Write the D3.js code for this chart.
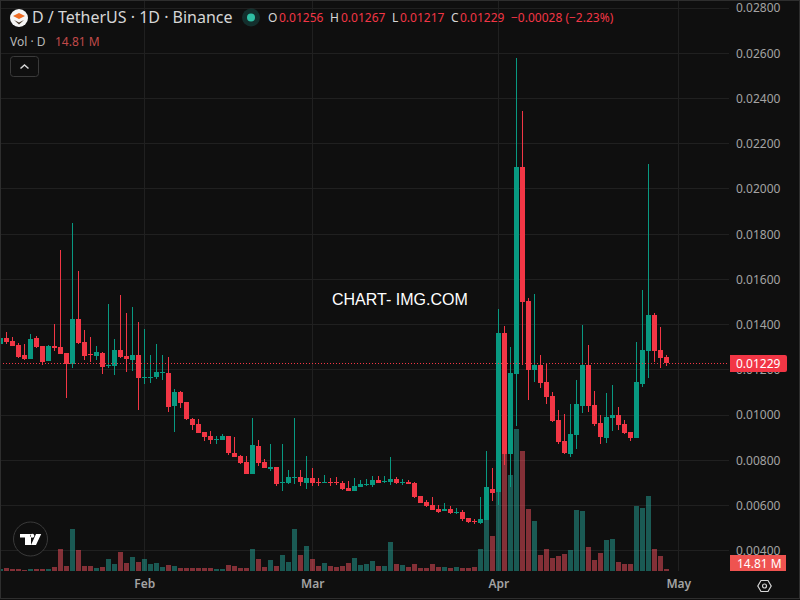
<!DOCTYPE html>
<html><head><meta charset="utf-8">
<style>html,body{margin:0;padding:0;background:#0f0f0f}svg{display:block}text{font-family:"Noto Sans",sans-serif}</style>
<script src="https://cdn.jsdelivr.net/npm/d3@7/dist/d3.min.js"></script>
</head><body><div id="c"></div>
<script>
const startDate = "2025-01-08";
const opens = [.01316,.01341,.01328,.01310,.01266,.01248,.01341,.01306,.01239,.01306,.01301,.01275,.01227,.01425,.01323,.01270,.01261,.01275,.01217,.01217,.01288,.01261,.01244,.01266,.01164,.01164,.01169,.01186,
.01186,.01040,.01102,.01058,.00983,.00961,.00925,.00907,.00891,.00890,.00907,.00832,.00819,.00793,.00739,.00863,.00793,.00762,.00770,.00700,.00700,.00722,.00726,.00700,.00722,.00704,.00700,.00704,.00704,.00700,.00678,.00664,.00682,.00691,.00691,.00713,.00704,.00704,.00717,.00700,.00704,.00700,
.00642,.00615,.00602,.00585,.00576,.00585,.00565,.00571,.00545,.00531,.00523,.00536,.00673,.00660,.01363,.00828,.01182,.02097,.01505,.01199,.01222,.01146,.01084,.00978,.00885,
.00828,.00912,.01040,.01221,.01045,.00965,.00899,.00987,.01000,.00961,.00925,.00899,.01137,.01283,.01443,.01288,.01256];
const highs = [.01345,.01368,.01345,.01317,.01314,.01359,.01350,.01306,.01310,.01403,.01730,.01275,.01850,.01637,.01376,.01345,.01306,.01279,.01491,.01337,.01531,.01452,.01478,.01412,.01381,.01266,.01314,.01266,
.01257,.01115,.01106,.01058,.00987,.00983,.00925,.00930,.00907,.00916,.00907,.00903,.00823,.00819,.00987,.00890,.00806,.00872,.00770,.00872,.00757,.00987,.00757,.00819,.00766,.00722,.00735,.00722,.00726,.00708,.00708,.00722,.00713,.00717,.00731,.00731,.00731,.00815,.00726,.00717,.00713,.00704,
.00642,.00624,.00638,.00602,.00611,.00598,.00589,.00580,.00545,.00540,.00638,.00841,.00766,.01469,.01394,.01301,.02579,.02345,.01518,.01536,.01266,.01226,.01102,.01022,.01005,
.01049,.01155,.01398,.01310,.01106,.01000,.01098,.01133,.01036,.00978,.00925,.01323,.01553,.02111,.01451,.01390,.01267];
const lows = [.01312,.01314,.01306,.01254,.01244,.01248,.01297,.01222,.01239,.01284,.01270,.01076,.01208,.01314,.01244,.01235,.01244,.01182,.01208,.01177,.01252,.01191,.01195,.01023,.01138,.01142,.01160,.01155,
.01014,.00925,.01031,.00978,.00934,.00921,.00885,.00872,.00872,.00890,.00823,.00815,.00784,.00739,.00739,.00775,.00766,.00753,.00686,.00664,.00695,.00695,.00686,.00673,.00686,.00686,.00700,.00686,.00691,.00669,.00664,.00664,.00682,.00686,.00682,.00700,.00700,.00691,.00695,.00691,.00695,.00633,
.00611,.00593,.00580,.00567,.00576,.00562,.00562,.00531,.00523,.00518,.00518,.00536,.00620,.00602,.00779,.00682,.00952,.01222,.01067,.01146,.01120,.01049,.00969,.00872,.00828,
.00815,.00850,.01009,.01014,.00952,.00872,.00876,.00930,.00934,.00916,.00885,.00899,.01124,.01164,.01235,.01208,.01217];
const closes = [.01341,.01322,.01306,.01257,.01248,.01337,.01301,.01235,.01306,.01297,.01270,.01226,.01425,.01319,.01261,.01266,.01279,.01213,.01222,.01288,.01257,.01248,.01266,.01164,.01169,.01169,.01191,.01191,
.01036,.01102,.01053,.00983,.00956,.00921,.00903,.00890,.00894,.00907,.00832,.00815,.00788,.00739,.00868,.00788,.00766,.00770,.00695,.00704,.00726,.00726,.00704,.00722,.00700,.00700,.00704,.00700,.00700,.00673,.00664,.00686,.00695,.00695,.00713,.00700,.00708,.00717,.00700,.00704,.00695,.00638,
.00611,.00598,.00580,.00571,.00585,.00567,.00570,.00540,.00527,.00527,.00540,.00682,.00655,.01363,.00828,.01186,.02097,.01500,.01199,.01222,.01142,.01080,.00974,.00881,.00832,
.00916,.01049,.01221,.01040,.00961,.00903,.00991,.01000,.00956,.00921,.00899,.01146,.01288,.01443,.01283,.01252,.01229];
const volumes = [15,22,15,15,7,15,15,15,15,30,163,37,311,155,37,37,22,30,89,52,141,59,104,67,89,52,59,30,44,37,22,22,22,22,22,22,15,15,44,37,22,22,
163,89,30,81,37,118,67,311,118,185,89,37,59,37,30,37,59,96,44,52,74,37,37,215,52,44,30,52,22,22,52,30,30,22,30,22,22,30,163,377,259,599,888,710,1051,888,459,370,118,163,96,111,126,
155,451,444,178,81,133,229,237,67,52,52,481,466,555,163,111,14.81];
const priceTicks = [.004,.006,.008,.010,.012,.014,.016,.018,.020,.022,.024,.026,.028];
const monthTicks = ["2025-02-01","2025-03-01","2025-04-01","2025-05-01"];
const monthNames = ["Feb","Mar","Apr","May"];
const titleText = "D / TetherUS · 1D · Binance";
const lastClose = closes[closes.length-1], lastVolume = volumes[volumes.length-1];

const W=800,H=600,plotR=729,volBase=571;
const UP="#089981",DOWN="#f23645",UPV="rgba(38,166,154,.5)",DOWNV="rgba(247,82,95,.5)";
const GRID="#202020",AX="#a3a3a3";
const svg=d3.select("#c").append("svg").attr("width",W).attr("height",H);
svg.append("rect").attr("width",W).attr("height",H).attr("fill","#0f0f0f");

const day=86400000, t0=new Date(startDate+"T00:00:00Z");
const dates=opens.map((_,i)=>new Date(+t0+i*day));
const x=d3.scaleUtc().domain([t0,new Date("2025-05-01T00:00:00Z")]).range([0.3,678.3]);
const y=d3.scaleLinear().domain([.004,.028]).range([550.7,8.1]);
const vy=d3.scaleLinear().domain([0,1051]).range([volBase,429]);
const months=monthTicks.map(d=>new Date(d+"T00:00:00Z"));

// grid
const grid=svg.append("g").attr("fill",GRID);
grid.selectAll(".h").data(priceTicks).join("rect").attr("x",0).attr("width",plotR).attr("y",d=>Math.round(y(d)-.5)).attr("height",1);
grid.selectAll(".v").data(months).join("rect").attr("y",0).attr("height",volBase).attr("x",d=>Math.floor(x(d))).attr("width",1);

const clip=svg.append("g");
// volume
clip.append("g").selectAll("rect").data(volumes).join("rect")
 .attr("x",(d,i)=>Math.round(x(dates[i]))-2).attr("width",5)
 .attr("y",d=>Math.round(vy(d))).attr("height",d=>volBase-Math.round(vy(d)))
 .attr("fill",(d,i)=>closes[i]>=opens[i]?UPV:DOWNV);
// candles
const g=clip.append("g");
const col=i=>closes[i]>=opens[i]?UP:DOWN;
g.selectAll(".w").data(opens).join("rect")
 .attr("x",(d,i)=>Math.round(x(dates[i]))).attr("width",1)
 .attr("y",(d,i)=>Math.round(y(highs[i]))).attr("height",(d,i)=>Math.max(1,Math.round(y(lows[i]))-Math.round(y(highs[i]))))
 .attr("fill",(d,i)=>col(i));
g.selectAll(".b").data(opens).join("rect")
 .attr("x",(d,i)=>Math.round(x(dates[i]))-2).attr("width",5)
 .attr("y",(d,i)=>Math.round(y(Math.max(d,closes[i]))))
 .attr("height",(d,i)=>Math.max(1,Math.round(y(Math.min(d,closes[i])))-Math.round(y(Math.max(d,closes[i])))))
 .attr("fill",(d,i)=>col(i));
// last price line
svg.append("line").attr("x1",0).attr("x2",plotR).attr("y1",Math.round(y(lastClose))+.5).attr("y2",Math.round(y(lastClose))+.5)
 .attr("stroke",DOWN).attr("stroke-dasharray","1 2");

// axes
const ya=svg.append("g").attr("transform",`translate(729,0)`).call(d3.axisRight(y).tickValues(priceTicks).tickSize(0).tickPadding(7).tickFormat(d3.format(".5f")));
ya.select(".domain").remove();
ya.selectAll("text").attr("fill",AX).style("font-size","12px").style("font-family",'"Noto Sans",sans-serif');
const xa=svg.append("g").attr("transform",`translate(0,577)`).call(d3.axisBottom(x).tickValues(months).tickSize(0).tickPadding(2).tickFormat((d,i)=>monthNames[i]));
xa.select(".domain").remove();
xa.selectAll("text").attr("fill",AX).attr("font-weight",600).style("font-size","12px").style("font-family",'"Noto Sans",sans-serif');

// labels on axis
svg.append("path").attr("d","M730 355H785a2 2 0 0 1 2 2V370a2 2 0 0 1-2 2H730Z").attr("fill",DOWN);
svg.append("text").attr("x",736).attr("y",368).attr("fill","#fff").attr("font-size",12).text(d3.format(".5f")(lastClose));
svg.append("path").attr("d","M730 555H786V571H730Z").attr("fill","#ef5350");
svg.append("text").attr("x",737).attr("y",568).attr("fill","#fff").attr("font-size",12).text(d3.format(".2f")(lastVolume)+" M");

// legend
svg.append("circle").attr("cx",19).attr("cy",18).attr("r",9).attr("fill","#f5f5f5");
svg.append("path").attr("d","M13 16 19 13 25 16 19 19Z").attr("fill","#ef6c23");
svg.append("path").attr("d","M14 20 19 22.5 24 20 19 24.5Z").attr("fill","#4a3a2c");
svg.append("text").attr("x",32).attr("y",23).attr("fill","#d6d6d6").attr("font-size",16).text(titleText);
svg.append("circle").attr("cx",251).attr("cy",17.5).attr("r",9).attr("fill","rgba(38,166,154,.22)");
svg.append("circle").attr("cx",251).attr("cy",17.5).attr("r",4).attr("fill","#2fbfa4");
const legendLabels=["O","H","L","C"], legendVals=[opens,highs,lows,closes], lblX=[268,330,392,451], valX=[279,341,400,460];
legendLabels.forEach((l,i)=>{
 svg.append("text").attr("x",lblX[i]).attr("y",22).attr("fill","#d6d6d6").attr("font-size",12).text(l);
 svg.append("text").attr("x",valX[i]).attr("y",22).attr("fill",DOWN).attr("font-size",12).text(d3.format(".5f")(legendVals[i][opens.length-1]));
});
svg.append("text").attr("x",511).attr("y",22).attr("fill",DOWN).attr("font-size",12).text("−0.00028 (−2.23%)");
svg.append("text").attr("x",10).attr("y",46).attr("fill","#b8b8b8").attr("font-size",12).text("Vol · D");
svg.append("text").attr("x",55).attr("y",46).attr("fill","#c14a4a").attr("font-size",12).text("14.81 M");
svg.append("rect").attr("x",10.5).attr("y",56.5).attr("width",28).attr("height",20).attr("rx",3).attr("fill","#0f0f0f").attr("stroke","#3a3a3a");
svg.append("path").attr("d","M20.5 68.5 24.5 65 28.5 68.5").attr("fill","none").attr("stroke","#d6d6d6").attr("stroke-width",1.5);

// watermark
svg.append("text").attr("x",332).attr("y",305).attr("fill","#fff").attr("font-size",16).style("font-family",'"Liberation Sans",sans-serif').text("CHART- IMG.COM");

// TV logo
svg.append("circle").attr("cx",30.5).attr("cy",539).attr("r",17).attr("fill","#0f0f0f").attr("stroke","#3a3a3a").attr("stroke-width",1);
svg.append("path").attr("fill","#fff").attr("d","M20 534H31V545H25V537.5H20Z M32.3 533.8a2 2 0 1 0 .01 0Z M36 534H41.2L36 545H31Z");

// settings icon
svg.append("path").attr("d","M757.8 586 761 580.5H768L771.2 586 768 591.5H761Z").attr("fill","none").attr("stroke","#d6d6d6").attr("stroke-width",1.2);
svg.append("circle").attr("cx",764.5).attr("cy",586).attr("r",2).attr("fill","none").attr("stroke","#d6d6d6").attr("stroke-width",1.2);

// frame
svg.append("rect").attr("x",.5).attr("y",.5).attr("width",W-1).attr("height",H-2).attr("fill","none").attr("stroke","#2e2e2e");
</script></body></html>
